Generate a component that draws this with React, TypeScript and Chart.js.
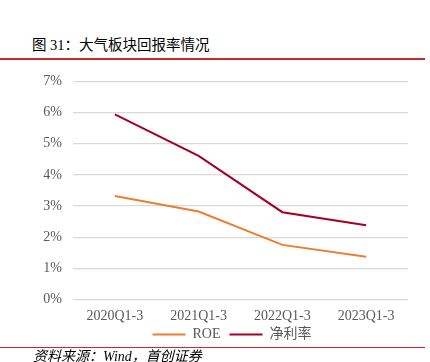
import React, { useEffect, useRef } from "react";
import { Chart, registerables } from "chart.js";

Chart.register(...registerables);

const categories = ["2020Q1-3", "2021Q1-3", "2022Q1-3", "2023Q1-3"];
const roeValues = [3.32, 2.82, 1.75, 1.37];
const netMarginValues = [5.94, 4.61, 2.8, 2.38];
const yTicks = [0, 1, 2, 3, 4, 5, 6, 7];

const SERIF = "'Liberation Serif', 'Times New Roman', 'Noto Sans CJK SC', serif";

const legendTweak = {
  id: "legendTweak",
  beforeLayout(chart: any) {
    const l = chart.legend;
    if (l && !l.__patched) {
      const orig = l.fit;
      l.fit = function () {
        orig.call(this);
        this.height = 30;
      };
      l.__patched = true;
    }
  },
  afterLayout(chart: any) {
    const l = chart.legend;
    if (l) {
      l.left += 28;
      l.right += 28;
      l.top -= 9;
      l.bottom -= 9;
    }
  },
};

export default function App() {
  const ref = useRef<HTMLCanvasElement | null>(null);

  useEffect(() => {
    if (!ref.current) return;
    const chart = new Chart(ref.current, {
      type: "line",
      data: {
        labels: categories,
        datasets: [
          {
            label: "ROE",
            data: roeValues,
            borderColor: "#ED7D31",
            backgroundColor: "#ED7D31",
            borderWidth: 2,
            pointRadius: 0,
            tension: 0,
          },
          {
            label: "净利率",
            data: netMarginValues,
            borderColor: "#A50021",
            backgroundColor: "#A50021",
            borderWidth: 2,
            pointRadius: 0,
            tension: 0,
          },
        ],
      },
      plugins: [legendTweak],
      options: {
        responsive: false,
        animation: false,
        layout: { padding: { top: 14, right: 22, left: 0, bottom: 4.6 } },
        plugins: {
          tooltip: { enabled: false },
          legend: {
            position: "bottom",
            labels: {
              boxWidth: 33,
              boxHeight: 2,
              padding: 9,
              color: "#595959",
              font: { family: SERIF, size: 14 },
              generateLabels: (c: any) =>
                Chart.defaults.plugins.legend.labels
                  .generateLabels(c)
                  .map((l: any) => ({ ...l, lineWidth: 0, fillStyle: l.strokeStyle })),
            },
          },
        },
        scales: {
          x: {
            offset: true,
            grid: { display: false, drawTicks: false },
            border: { display: false },
            ticks: {
              color: "#595959",
              font: { family: SERIF, size: 14 },
              padding: 9,
              maxRotation: 0,
            },
            afterFit: (s: any) => {
              s.height = 28;
            },
          },
          y: {
            min: yTicks[0],
            max: yTicks[yTicks.length - 1],
            afterBuildTicks: (s: any) => {
              s.ticks = yTicks.map((v) => ({ value: v }));
            },
            grid: { color: "#D9D9D9", lineWidth: 1.2, drawTicks: false },
            border: { display: false },
            ticks: {
              color: "#595959",
              font: { family: SERIF, size: 14 },
              padding: 11,
              callback: (v: any) => `${v}%`,
            },
            afterFit: (s: any) => {
              s.width = 73;
            },
          },
        },
      },
    });
    return () => chart.destroy();
  }, []);

  return (
    <div
      style={{
        position: "fixed",
        left: 0,
        top: 0,
        width: 430,
        height: 362,
        background: "#fff",
        overflow: "hidden",
      }}
    >
      <canvas
        ref={ref}
        width={430}
        height={300}
        style={{ position: "absolute", left: 0, top: 62, width: 430, height: 300 }}
      />
      <div
        style={{
          position: "absolute",
          left: 32,
          top: 35,
          fontFamily: "'Liberation Serif', 'Noto Sans CJK SC', serif",
          fontSize: 14.5,
          lineHeight: "20px",
          color: "#000",
          whiteSpace: "nowrap",
        }}
      >
        图 31：大气板块回报率情况
      </div>
      <div
        style={{
          position: "absolute",
          left: 0,
          top: 58,
          width: 425,
          height: 2,
          background: "#C8292E",
        }}
      />
      <div
        style={{
          position: "absolute",
          left: 0,
          top: 347,
          width: 425,
          height: 1,
          background: "#C8292E",
        }}
      />
      <div
        style={{
          position: "absolute",
          left: 33,
          top: 348,
          fontFamily: "'Liberation Serif', 'Noto Sans CJK SC', serif",
          fontStyle: "italic",
          fontSize: 14,
          lineHeight: "18px",
          color: "#000",
          whiteSpace: "nowrap",
        }}
      >
        资料来源：Wind，首创证券
      </div>
    </div>
  );
}
